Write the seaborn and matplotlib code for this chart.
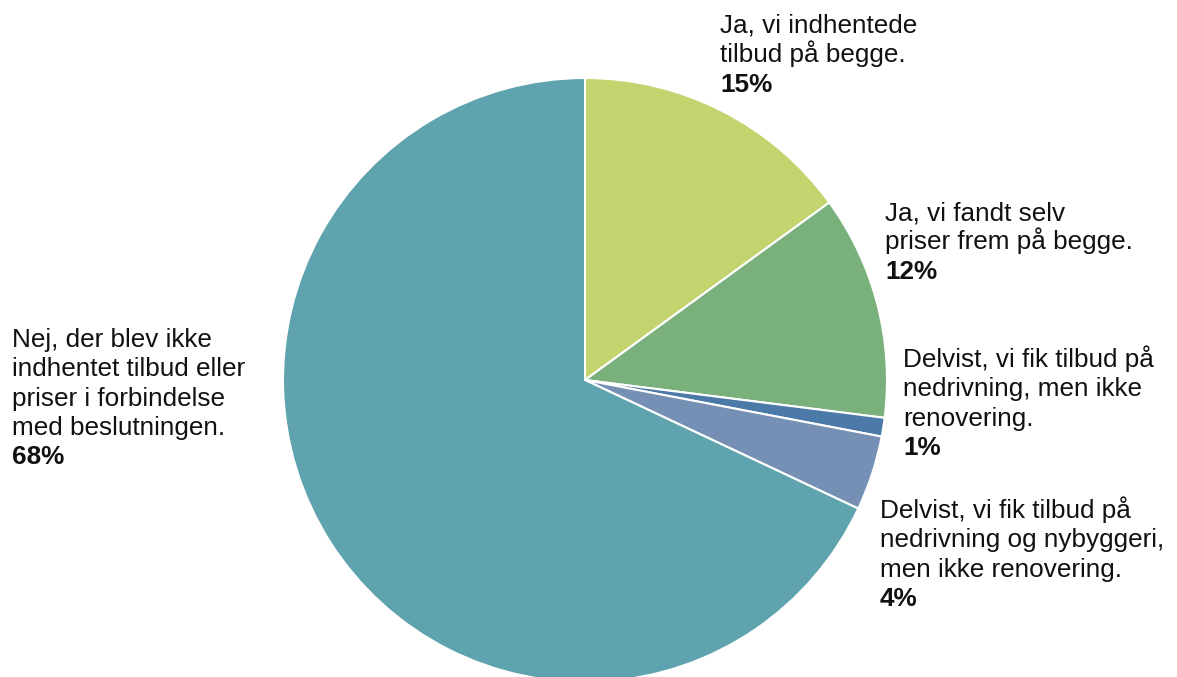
import matplotlib
matplotlib.use("Agg")
import matplotlib.pyplot as plt
import seaborn as sns

sns.set_theme(style="white")
plt.rcParams['font.family'] = ['Liberation Sans', 'DejaVu Sans']

# data
labels = [
    "Ja, vi indhentede\ntilbud på begge.",
    "Ja, vi fandt selv\npriser frem på begge.",
    "Delvist, vi fik tilbud på\nnedrivning, men ikke\nrenovering.",
    "Delvist, vi fik tilbud på\nnedrivning og nybyggeri,\nmen ikke renovering.",
    "Nej, der blev ikke\nindhentet tilbud eller\npriser i forbindelse\nmed beslutningen.",
]
values = [15, 12, 1, 4, 68]
colors = ["#c3d36e", "#7ab07b", "#4b7aa9", "#7590b4", "#5fa3ae"]

# label anchor (x, first baseline) in pixels from top-left
label_pos = [(720, 33), (885, 220), (903, 367), (880, 518), (12, 347)]

W, H = 1177, 677
fig = plt.figure(figsize=(W / 100, H / 100), dpi=100)

cx, cy, r = 585, 380, 302
ax = fig.add_axes([(cx - r) / W, (H - cy - r) / H, 2 * r / W, 2 * r / H])
ax.pie(values, colors=colors, startangle=90, counterclock=False,
       wedgeprops=dict(edgecolor="white", linewidth=1.5))
ax.set_xlim(-1, 1)
ax.set_ylim(-1, 1)
ax.set_aspect("equal")
ax.axis("off")

lh = 29.3
fs = 18.8
for lab, v, (x, y) in zip(labels, values, label_pos):
    lines = lab.split("\n")
    for i, line in enumerate(lines):
        fig.text(x / W, 1 - (y + i * lh) / H, line, fontsize=fs,
                 color="#111111", va="baseline", ha="left")
    fig.text(x / W, 1 - (y + len(lines) * lh) / H, f"{v}%", fontsize=fs,
             fontweight="bold", color="#111111", va="baseline", ha="left")

fig.savefig("out.png", dpi=100)
